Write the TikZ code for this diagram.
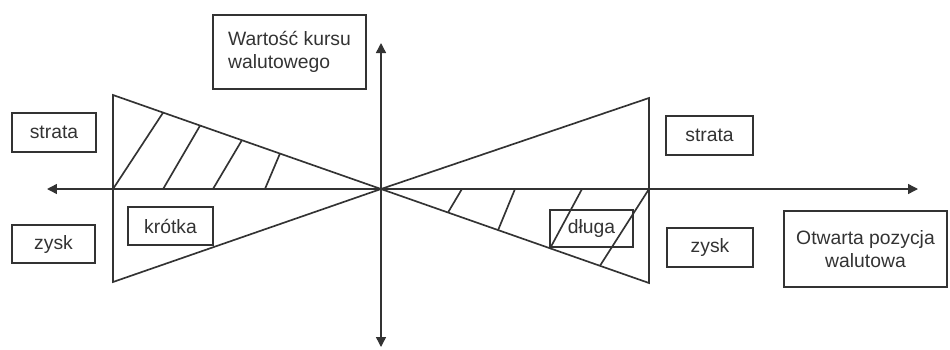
\documentclass[tikz,border=0pt]{standalone}
\usepackage{fontspec}
\setmainfont{Liberation Sans}
\usepackage{tikz}
\usetikzlibrary{arrows.meta,calc}
\definecolor{ink}{HTML}{333333}
\tikzset{
  lbox/.style   = {draw=ink, line width=0.85pt, align=center, text=ink,
                   font=\fontsize{11}{13}\selectfont, inner sep=2pt},
  axis/.style   = {{Triangle[length=2mm,width=2mm]}-{Triangle[length=2mm,width=2mm]},
                   draw=ink, line width=0.8pt},
  wedge/.style  = {draw=ink, line width=0.95pt, line join=miter},
  hatch/.style  = {draw=ink, line width=0.95pt},
}

\begin{document}
\begin{tikzpicture}[x=0.02cm, y=-0.02cm]
  \useasboundingbox (0,0) rectangle (950,349);

  % ---------- axes --------------------------------------------------------
  \coordinate (o)  at (381,189);
  \coordinate (xl) at (47,189);
  \coordinate (xr) at (918,189);
  \coordinate (yt) at (381,43);
  \coordinate (yb) at (381,347);
  \draw[axis] (xl) -- (xr);
  \draw[axis] (yb) -- (yt);

  % ---------- wedges ------------------------------------------------------
  \coordinate (lt) at (113,95);
  \coordinate (lb) at (113,282);
  \coordinate (lm) at (113,189);
  \coordinate (rt) at (649,98);
  \coordinate (rb) at (649,283);
  \coordinate (rm) at (649,189);
  \draw[wedge] (o) -- (lt) -- (lb) -- cycle;
  \draw[wedge] (o) -- (rt) -- (rb) -- cycle;

  % hatching: short position (loss side) and long position (profit side)
  \foreach \a/\b in {0/0.187, 0.187/0.325, 0.373/0.481, 0.567/0.623}
    \draw[hatch] ($(lm)!\a!(o)$) -- ($(lt)!\b!(o)$);
  \foreach \a/\b in {0.302/0.25, 0.5/0.437, 0.75/0.631, 1.0/0.817}
    \draw[hatch] ($(o)!\a!(rm)$) -- ($(o)!\b!(rb)$);

  % ---------- labels ------------------------------------------------------
  \node[lbox, minimum width=3.06cm, minimum height=1.48cm, align=left]
    (kurs) at (289.5,52) {Wartość kursu\\walutowego};
  \node[lbox, minimum width=1.68cm, minimum height=0.78cm] (strataL) at (54,132.5) {strata};
  \node[lbox, minimum width=1.66cm, minimum height=0.76cm] (zyskL) at (53.5,244) {zysk};
  \node[lbox, minimum width=1.70cm, minimum height=0.76cm] (krotka) at (170.5,226) {krótka};
  \node[lbox, minimum width=1.74cm, minimum height=0.78cm] (strataR) at (709.5,135.5) {strata};
  \node[lbox, minimum width=1.66cm, minimum height=0.74cm] (dluga) at (591.5,228.5) {długa};
  \node[lbox, minimum width=1.72cm, minimum height=0.78cm] (zyskR) at (710,247.5) {zysk};
  \node[lbox, minimum width=3.26cm, minimum height=1.52cm]
    (pozycja) at (865.5,249) {Otwarta pozycja\\walutowa};

\end{tikzpicture}
\end{document}
